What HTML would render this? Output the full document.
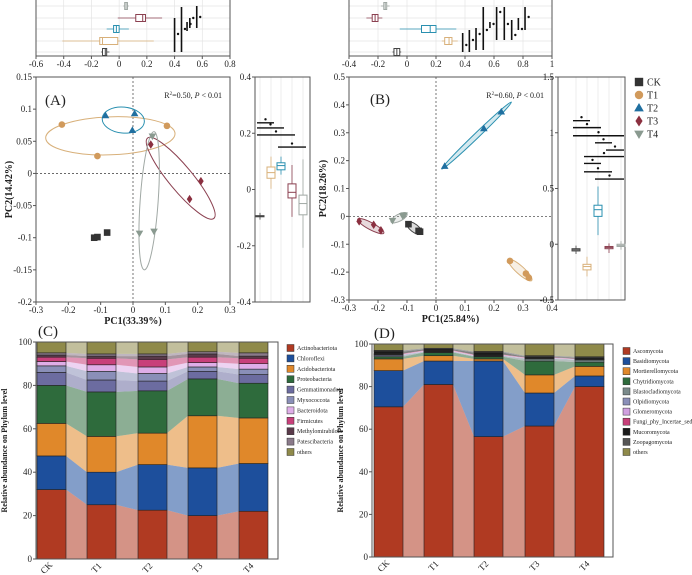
<!DOCTYPE html>
<html><head><meta charset="utf-8">
<style>
html,body{margin:0;padding:0;background:#fff;}
svg{display:block;font-family:"Liberation Serif",serif;}
</style></head>
<body>
<svg id="fig" width="692" height="575" viewBox="0 0 692 575" xmlns="http://www.w3.org/2000/svg"></svg>
<script>
// ---------- DATA ----------
const groups = ['CK','T1','T2','T3','T4'];
const groupColors = ['#333333','#d19a5c','#1f6fa0','#8b3040','#8a9a90'];
const groupShapes = ['square','circle','triangle','diamond','tri-down'];
const ellipseColors = ['#444444','#d8b07a','#2a90b0','#8b4050','#a0a8a4'];

// Panel A PCoA points [pc1, pc2]
const aCK = [[-0.12,-0.1],[-0.11,-0.099],[-0.08,-0.092]];
const aT1 = [[-0.22,0.076],[0.105,0.074],[-0.11,0.027]];
const aT2 = [[-0.085,0.09],[0.005,0.093],[-0.002,0.067]];
const aT3 = [[0.055,0.045],[0.21,-0.012],[0.175,-0.04]];
const aT4 = [[0.06,0.058],[0.02,-0.093],[0.065,-0.09]];
const aEll = [null,[-0.27,0.055,0.13,0.062,19],[-0.095,0.086,0.035,0.08,13],[0.045,0.055,0.25,-0.07,12],[0.065,0.065,0.035,-0.15,9]];
// Panel B PCoA points
const bCK = [[-0.095,-0.028],[-0.06,-0.052],[-0.055,-0.055]];
const bT1 = [[0.255,-0.16],[0.31,-0.205],[0.32,-0.22]];
const bT2 = [[0.03,0.18],[0.165,0.315],[0.225,0.375]];
const bT3 = [[-0.265,-0.018],[-0.215,-0.03],[-0.19,-0.05]];
const bT4 = [[-0.15,-0.015],[-0.115,0.002],[-0.11,0.005]];
const bEll = [[-0.1,-0.022,-0.05,-0.062,4],[0.25,-0.155,0.33,-0.23,4],[0.02,0.17,0.26,0.41,2.5],[-0.27,-0.01,-0.18,-0.06,3.5],[-0.155,-0.02,-0.1,0.01,3.5]];

// Boxplot stats [whiskLo, q1, median, q3, whiskHi]
const aTopBox = [[-0.13,-0.12,-0.1,-0.09,-0.07],[-0.41,-0.14,-0.12,-0.01,0.25],[-0.09,-0.04,-0.02,0,0.07],[-0.01,0.12,0.17,0.19,0.31],[0.03,0.04,0.05,0.06,0.07]];
const aRightBox = [[-0.1,-0.097,-0.095,-0.093,-0.09],[0.01,0.04,0.06,0.08,0.11],[0.06,0.07,0.085,0.095,0.11],[-0.09,-0.03,-0.01,0.02,0.08],[-0.2,-0.09,-0.05,-0.02,0.1]];
const bTopBox = [[-0.1,-0.09,-0.07,-0.05,-0.04],[0.24,0.26,0.29,0.31,0.35],[-0.05,0.1,0.16,0.2,0.34],[-0.28,-0.24,-0.22,-0.2,-0.17],[-0.18,-0.16,-0.15,-0.14,-0.12]];
const bRightBox = [[-0.07,-0.06,-0.05,-0.04,-0.03],[-0.27,-0.23,-0.2,-0.18,-0.13],[0.1,0.25,0.31,0.35,0.5],[-0.06,-0.04,-0.03,-0.02,-0.01],[-0.03,-0.02,-0.01,0,0.01]];
// significance bars right: [colA, colB, y]
const aSigR = [[0,1,0.237],[0,2,0.219],[0,3,0.194],[2,4,0.151]];
const bSigR = [[0,1,1.108],[0,2,1.046],[0,4,0.973],[2,3,0.91],[3,4,0.845],[1,4,0.786],[1,2,0.725],[1,3,0.65],[2,4,0.585]];
// significance bars top: [x, y1px, y2px, dotY]
const aSigT = [[0.40,18,52,34],[0.45,7,52,29],[0.49,22,31,24],[0.51,18,28,18],[0.56,6,28,17]];
const bSigT = [[0.384,33,52,45],[0.43,30,52,40],[0.476,28,50,34],[0.526,7,50,30],[0.572,22,28,24],[0.618,7,40,12],[0.671,7,40,24],[0.722,20,40,35],[0.768,18,30,29],[0.814,7,30,17]];

// Panel C phyla (bacteria) %
const cNames = ['Actinobacteriota','Chloroflexi','Acidobacteriota','Proteobacteria','Gemmatimonadota','Myxococcota','Bacteroidota','Firmicutes','Methylomirabilota','Patescibacteria','others'];
const cColors = ['#b03a22','#1d4f9c','#e0882a','#2e6b3c','#6c6ca0','#8a8fb8','#dfaee8','#c8407a','#5a3a4a','#8a7a8a','#8f8a4a'];
const cCK = [32,15.5,15,17.5,6,3,2,2,1,1,5];
const cT1 = [25,15,16.5,20.5,5.5,4,3,3,1,1,5.5];
const cT2 = [22.5,21,14.5,19.5,4.5,3.5,3,3.5,1.5,1,5.5];
const cT3 = [20,22,24,17,3.5,2,2,2.5,1.5,1,4.5];
const cT4 = [22,22,21,16,4,2.5,2.5,2.5,1,1.5,5];
// Panel D phyla (fungi) %
const dNames = ['Ascomycota','Basidiomycota','Mortierellomycota','Chytridiomycota','Blastocladiomycota','Olpidiomycota','Glomeromycota','Fungi_phy_Incertae_sedis','Mucoromycota','Zoopagomycota','others'];
const dColors = ['#b03a22','#1d4f9c','#e0882a','#2e6b3c','#7a8a8a','#8a8fb8','#d0a0e0','#c8407a','#1a1a1a','#555555','#8f8a4a'];
const dCK = [70.5,17,5.5,1,0.5,0.5,0.2,0.3,1,0.5,3];
const dT1 = [81,11,2.5,1.5,0.3,0.2,0.2,0.3,0.5,0.5,2];
const dT2 = [56.5,35.5,1,1,0.3,0.2,0.2,0.3,1,0.5,3.5];
const dT3 = [61.5,15.5,8.5,6.5,1,0.3,0.2,0.2,0.3,0.5,5.5];
const dT4 = [80,5,4.5,2,1,0.2,0.2,0.2,0.4,0.5,6];

// ---------- HELPERS ----------
const NS='http://www.w3.org/2000/svg';
const svg=document.getElementById('fig');
function mk(tag,attrs,name,inter,parent){
  const el=document.createElementNS(NS,tag);
  for(const k in attrs) el.setAttribute(k,attrs[k]);
  
  
  (parent||svg).appendChild(el);
  return el;
}
function txt(x,y,s,size,anchor,name,extra){
  const a=Object.assign({x:x,y:y,'font-size':size,'text-anchor':anchor||'middle',fill:'#222'},extra||{});
  const t=mk('text',a,name,false);
  t.textContent=s;
  return t;
}
function lin(sx,d0,d1,p0,p1){return v=>p0+(v-d0)/(d1-d0)*(p1-p0);}
function marker(shape,x,y,r,color,name){
  if(shape==='square') return mk('rect',{x:x-r,y:y-r,width:2*r,height:2*r,fill:color},name,false);
  if(shape==='circle') return mk('circle',{cx:x,cy:y,r:r,fill:color},name,false);
  if(shape==='triangle') return mk('polygon',{points:`${x},${y-r*1.2} ${x-r*1.15},${y+r*0.8} ${x+r*1.15},${y+r*0.8}`,fill:color},name,false);
  if(shape==='tri-down') return mk('polygon',{points:`${x},${y+r*1.2} ${x-r*1.15},${y-r*0.8} ${x+r*1.15},${y-r*0.8}`,fill:color},name,false);
  return mk('polygon',{points:`${x},${y-r*1.3} ${x-r*0.85},${y} ${x},${y+r*1.3} ${x+r*0.85},${y}`,fill:color},name,false);
}
function frame(x0,y0,x1,y1,name){mk('rect',{x:x0,y:y0,width:x1-x0,height:y1-y0,fill:'none',stroke:'#555','stroke-width':1},name,false);}
function fmt(v){let s=(+v.toFixed(2)).toString();return s;}

// ---------- SCATTER PANELS ----------
function scatter(cfg){
  const X=lin(0,cfg.xd[0],cfg.xd[1],cfg.x0,cfg.x1), Y=lin(0,cfg.yd[0],cfg.yd[1],cfg.y1,cfg.y0);
  mk('line',{x1:X(0),y1:cfg.y0,x2:X(0),y2:cfg.y1,stroke:'#555','stroke-dasharray':'2,2','stroke-width':0.8},cfg.p+'-zero-vline',false);
  mk('line',{x1:cfg.x0,y1:Y(0),x2:cfg.x1,y2:Y(0),stroke:'#555','stroke-dasharray':'2,2','stroke-width':0.8},cfg.p+'-zero-hline',false);
  frame(cfg.x0,cfg.y0,cfg.x1,cfg.y1,cfg.p+'-plot-frame');
  cfg.xt.forEach(v=>{mk('line',{x1:X(v),y1:cfg.y1,x2:X(v),y2:cfg.y1+3,stroke:'#555'},cfg.p+'-x-tick',false);
    txt(X(v),cfg.y1+11,fmt(v),9,'middle',cfg.p+'-x-tick-label');});
  cfg.yt.forEach(v=>{mk('line',{x1:cfg.x0-3,y1:Y(v),x2:cfg.x0,y2:Y(v),stroke:'#555'},cfg.p+'-y-tick',false);
    txt(cfg.x0-4,Y(v)+3,fmt(v),9,'end',cfg.p+'-y-tick-label');});
  cfg.ell.forEach((e,i)=>{ if(!e) return;
    const ax=X(e[0]),ay=Y(e[1]),bx=X(e[2]),by=Y(e[3]);
    const cx=(ax+bx)/2,cy=(ay+by)/2,rx=Math.hypot(bx-ax,by-ay)/2,ang=Math.atan2(by-ay,bx-ax)*180/Math.PI;
    mk('ellipse',{cx:cx,cy:cy,rx:rx,ry:e[4],transform:`rotate(${ang} ${cx} ${cy})`,fill:cfg.fillEll?ellipseColors[i]:'none','fill-opacity':cfg.fillEll?0.2:0,stroke:ellipseColors[i],'stroke-width':1},cfg.p+'-ellipse-'+groups[i].toLowerCase(),false);
  });
  cfg.pts.forEach((arr,i)=>arr.forEach(pt=>marker(groupShapes[i],X(pt[0]),Y(pt[1]),3.3,groupColors[i],cfg.p+'-point-'+groups[i].toLowerCase())));
  txt(cfg.lx,cfg.ly,cfg.label,15,'start',cfg.p+'-panel-label');
  const r=txt(cfg.x1-8,cfg.y0+21,'',8,'end',cfg.p+'-stats-text');
  r.innerHTML='R<tspan font-size="5" dy="-3">2</tspan><tspan dy="3">='+cfg.r2+', </tspan><tspan font-style="italic">P</tspan> &lt; 0.01';
  txt((cfg.x0+cfg.x1)/2,cfg.y1+22,cfg.xlab,10,'middle',cfg.p+'-x-axis-title',{'font-weight':'bold'});
  txt(0,0,cfg.ylab,10,'middle',cfg.p+'-y-axis-title',{'font-weight':'bold',transform:`translate(${cfg.yx},${(cfg.y0+cfg.y1)/2}) rotate(-90)`});
}
function topBox(cfg){
  const X=lin(0,cfg.xd[0],cfg.xd[1],cfg.x0,cfg.x1);
  cfg.xt.forEach(v=>mk('line',{x1:X(v),y1:0,x2:X(v),y2:cfg.y1,stroke:'#e4e4e4','stroke-width':0.7},cfg.p+'-top-grid',false));
  cfg.rows.forEach(r=>mk('line',{x1:cfg.x0,y1:r,x2:cfg.x1,y2:r,stroke:'#e4e4e4','stroke-width':0.7},cfg.p+'-top-grid',false));
  frame(cfg.x0,-1,cfg.x1,cfg.y1,cfg.p+'-top-box-frame');
  cfg.xt.forEach(v=>{mk('line',{x1:X(v),y1:cfg.y1,x2:X(v),y2:cfg.y1+3,stroke:'#555'},cfg.p+'-top-x-tick',false);
    txt(X(v),cfg.y1+11,fmt(v),9,'middle',cfg.p+'-top-x-tick-label');});
  const order=[4,3,2,1,0];
  order.forEach((g,ri)=>{const s=cfg.data[g],y=cfg.rows[ri],c=ellipseColors[g],h=3.5;
    mk('line',{x1:X(s[0]),y1:y,x2:X(s[4]),y2:y,stroke:c,'stroke-width':0.8},cfg.p+'-top-whisker-'+groups[g].toLowerCase(),false);
    mk('rect',{x:X(s[1]),y:y-h,width:X(s[3])-X(s[1]),height:2*h,fill:'#fff',stroke:c,'stroke-width':1},cfg.p+'-top-box-'+groups[g].toLowerCase(),false);
    mk('line',{x1:X(s[2]),y1:y-h,x2:X(s[2]),y2:y+h,stroke:c,'stroke-width':1},cfg.p+'-top-median-'+groups[g].toLowerCase(),false);});
  cfg.sig.forEach(s=>{mk('line',{x1:X(s[0]),y1:s[1],x2:X(s[0]),y2:s[2],stroke:'#111','stroke-width':1.6},cfg.p+'-top-sig-bar',false);
    mk('circle',{cx:X(s[0]+0.025),cy:s[3],r:1.2,fill:'#111'},cfg.p+'-top-sig-star',false);});
}
function rightBox(cfg){
  const Y=lin(0,cfg.yd[0],cfg.yd[1],cfg.y1,cfg.y0);
  cfg.cols.forEach(c=>mk('line',{x1:c,y1:cfg.y0,x2:c,y2:cfg.y1,stroke:'#e4e4e4','stroke-width':0.7},cfg.p+'-right-grid',false));
  frame(cfg.x0,cfg.y0,cfg.x1,cfg.y1,cfg.p+'-right-box-frame');
  cfg.yt.forEach(v=>{mk('line',{x1:cfg.x0-3,y1:Y(v),x2:cfg.x0,y2:Y(v),stroke:'#555'},cfg.p+'-right-y-tick',false);
    txt(cfg.x0-4,Y(v)+3,fmt(v),9,'end',cfg.p+'-right-y-tick-label');});
  cfg.data.forEach((s,g)=>{const x=cfg.cols[g],c=ellipseColors[g],w=4;
    mk('line',{x1:x,y1:Y(s[0])+2,x2:x,y2:Y(s[4])-2,stroke:c,'stroke-width':0.8},cfg.p+'-right-whisker-'+groups[g].toLowerCase(),false);
    mk('rect',{x:x-w,y:Y(s[3]),width:2*w,height:Math.max(1,Y(s[1])-Y(s[3])),fill:'#fff',stroke:c,'stroke-width':1},cfg.p+'-right-box-'+groups[g].toLowerCase(),false);
    mk('line',{x1:x-w,y1:Y(s[2]),x2:x+w,y2:Y(s[2]),stroke:c,'stroke-width':1},cfg.p+'-right-median-'+groups[g].toLowerCase(),false);});
  cfg.sig.forEach(s=>{const xa=cfg.cols[s[0]]-3,xb=cfg.cols[s[1]]+3;
    mk('line',{x1:xa,y1:Y(s[2]),x2:xb,y2:Y(s[2]),stroke:'#111','stroke-width':1.4},cfg.p+'-right-sig-bar',false);
    mk('circle',{cx:(xa+xb)/2,cy:Y(s[2])-3.5,r:1.2,fill:'#111'},cfg.p+'-right-sig-star',false);});
}

// Panel A
topBox({p:'a',x0:36,x1:230,y1:56,xd:[-0.6,0.8],xt:[-0.6,-0.4,-0.2,0,0.2,0.4,0.6,0.8],rows:[6,18,29,41,52],data:aTopBox,sig:aSigT});
scatter({p:'a',x0:36,x1:230,y0:77,y1:302,xd:[-0.3,0.3],yd:[-0.2,0.15],xt:[-0.3,-0.2,-0.1,0,0.1,0.2,0.3],yt:[0.15,0.1,0.05,0,-0.05,-0.1,-0.15,-0.2],
  pts:[aCK,aT1,aT2,aT3,aT4],ell:aEll,fillEll:false,label:'(A)',lx:45,ly:105,r2:'0.50',xlab:'PC1(33.39%)',ylab:'PC2(14.42%)',yx:12});
rightBox({p:'a',x0:255,x1:310,y0:77,y1:302,yd:[-0.4,0.4],yt:[0.4,0.2,0,-0.2,-0.4],cols:[260,271,281,292,303],data:aRightBox,sig:aSigR});
// Panel B
topBox({p:'b',x0:349,x1:552,y1:56,xd:[-0.4,1],xt:[-0.4,-0.2,0,0.2,0.4,0.6,0.8,1],rows:[6,18,29,41,52],data:bTopBox,sig:bSigT});
scatter({p:'b',x0:349,x1:552,y0:77,y1:300,xd:[-0.3,0.4],yd:[-0.3,0.5],xt:[-0.3,-0.2,-0.1,0,0.1,0.2,0.3,0.4],yt:[0.5,0.4,0.3,0.2,0.1,0,-0.1,-0.2,-0.3],
  pts:[bCK,bT1,bT2,bT3,bT4],ell:bEll,fillEll:true,label:'(B)',lx:370,ly:104,r2:'0.60',xlab:'PC1(25.84%)',ylab:'PC2(18.26%)',yx:326});
rightBox({p:'b',x0:558,x1:625,y0:77,y1:300,yd:[-0.5,1.5],yt:[1.5,1,0.5,0,-0.5],cols:[576,587,598,609,621],data:bRightBox,sig:bSigR});
// Legend
groups.forEach((g,i)=>{const y=82+i*13;
  marker(groupShapes[i],639,y,4.2,groupColors[i],'legend-marker-'+g.toLowerCase());
  txt(647,y+3.5,g,10,'start','legend-label-'+g.toLowerCase());});

// ---------- STACKED BAR PANELS ----------
function stacked(cfg){
  const Y=lin(0,0,100,cfg.y1,cfg.y0);
  const series=cfg.series;
  const cum=series.map(s=>{let a=[0];s.forEach(v=>a.push(a[a.length-1]+v));return a.map(v=>Math.min(100,v*100/a[s.length]));});
  for(let i=0;i<series.length-1;i++){
    const xa=cfg.bars[i]+cfg.bw,xb=cfg.bars[i+1];
    cfg.names.forEach((n,k)=>{
      mk('polygon',{points:`${xa},${Y(cum[i][k])} ${xb},${Y(cum[i+1][k])} ${xb},${Y(cum[i+1][k+1])} ${xa},${Y(cum[i][k+1])}`,fill:cfg.colors[k],'fill-opacity':0.55},cfg.p+'-flow-band',false);
    });
  }
  series.forEach((s,i)=>{
    cfg.names.forEach((n,k)=>{
      mk('rect',{x:cfg.bars[i],y:Y(cum[i][k+1]),width:cfg.bw,height:Y(cum[i][k])-Y(cum[i][k+1]),fill:cfg.colors[k],stroke:'#222','stroke-width':0.6},cfg.p+'-bar-'+groups[i].toLowerCase()+'-'+n.toLowerCase().replace(/_/g,'-'),false);
    });
    txt(0,0,groups[i],9,'middle',cfg.p+'-x-tick-label',{transform:`translate(${cfg.bars[i]+cfg.bw/2-3},${cfg.y1+11}) rotate(-45)`});
  });
  frame(cfg.x0,cfg.y0,cfg.x1,cfg.y1,cfg.p+'-plot-frame');
  [0,20,40,60,80,100].forEach(v=>{mk('line',{x1:cfg.x0-3,y1:Y(v),x2:cfg.x0,y2:Y(v),stroke:'#555'},cfg.p+'-y-tick',false);
    txt(cfg.x0-4,Y(v)+3,String(v),9,'end',cfg.p+'-y-tick-label');});
  txt(0,0,'Relative abundance on Phylum level',8,'middle',cfg.p+'-y-axis-title',{'font-weight':'bold',transform:`translate(${cfg.yx},${(cfg.y0+cfg.y1)/2}) rotate(-90)`});
  txt(cfg.x0+2,cfg.y0-6,cfg.label,15,'start',cfg.p+'-panel-label');
  cfg.names.forEach((n,k)=>{const y=cfg.ly+k*cfg.lstep;
    mk('rect',{x:cfg.lx,y:y-3.5,width:7,height:7,fill:cfg.colors[k],stroke:'#333','stroke-width':0.5},cfg.p+'-legend-swatch',false);
    txt(cfg.lx+10,y+2,n,6,'start',cfg.p+'-legend-label');});
}
stacked({p:'c',x0:36,x1:278,y0:342,y1:559,bars:[37,87,138,188,239],bw:29,series:[cCK,cT1,cT2,cT3,cT4],names:cNames,colors:cColors,label:'(C)',yx:7,lx:287,ly:348,lstep:10.4});
stacked({p:'d',x0:372,x1:613,y0:344,y1:557,bars:[374,424,474,525,575],bw:29,series:[dCK,dT1,dT2,dT3,dT4],names:dNames,colors:dColors,label:'(D)',yx:343,lx:623,ly:351,lstep:10.1});
</script>
</body></html>
